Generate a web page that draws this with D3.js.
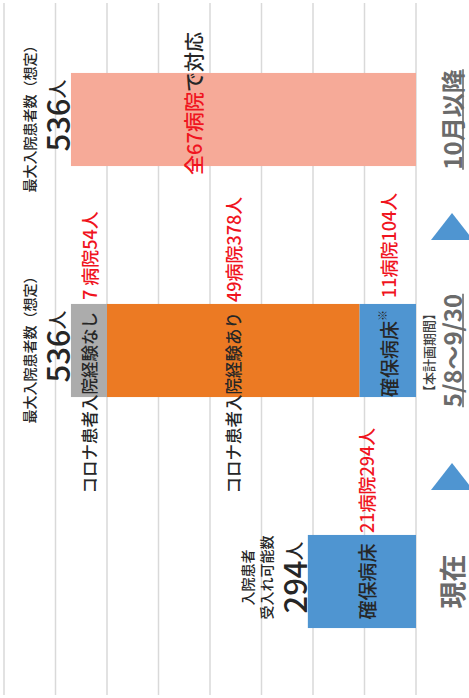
<!DOCTYPE html>
<html>
<head>
<meta charset="UTF-8">
<style>
  body { margin: 0; background: #fff; }
  svg text { font-family: "Noto Sans CJK JP", "Noto Sans", sans-serif; font-weight: 500; }
  .grid line { stroke: #d9d9d9; stroke-width: 1.5; }
</style>
</head>
<body>
<script src="https://cdn.jsdelivr.net/npm/d3@7/dist/d3.min.js"></script>
<script>
// periods (category axis)
var categories = ["現在", "5/8～9/30", "10月以降"];
var categorySub = ["", "【本計画期間】", ""];
var categoryUnderline = [false, true, true];

// hospitals per series (bar length)
var kakuhoHosp = [21, 11, 0];
var ariHosp    = [0, 49, 0];
var nashiHosp  = [0, 7, 0];
var allHosp    = [0, 0, 67];

// patients per series (labels)
var kakuhoPat = [294, 104, 0];
var ariPat    = [0, 378, 0];
var nashiPat  = [0, 54, 0];
var allPat    = [0, 0, 536];

// headline above each bar
var headCaption = [["入院患者", "受入れ可能数"], ["最大入院患者数（想定）"], ["最大入院患者数（想定）"]];
var headValue = [294, 536, 536];

var keys = ["kakuho", "ari", "nashi", "all"];
var keyNames = ["確保病床", "コロナ患者入院経験あり", "コロナ患者入院経験なし", "全"];
var colors = { kakuho: "#4f95d1", ari: "#ec7a23", nashi: "#acacac", all: "#f6aa98" };
var RED = "#f0141e", DARK = "#262626", GRAY = "#6b6b6b";

var W = 469, H = 698;

var rows = categories.map(function(c, i) {
  return { cat: c, kakuho: kakuhoHosp[i], ari: ariHosp[i], nashi: nashiHosp[i], all: allHosp[i] };
});

var svg = d3.select("body").append("svg")
  .attr("width", W).attr("height", H);

// chart is drawn as a column chart and turned a quarter turn
var g = svg.append("g")
  .attr("transform", "translate(0," + H + ") rotate(-90)");

var x = d3.scaleBand().domain(categories).range([1, 694])
  .paddingInner(0.597).paddingOuter(0.2985);
var y = d3.scaleLinear().domain([0, 80]).range([416, 4]);

// gridlines
g.append("g").attr("class", "grid")
  .selectAll("line").data(y.ticks(8)).enter().append("line")
    .attr("x1", 3).attr("x2", 695)
    .attr("y1", function(d) { return y(d); })
    .attr("y2", function(d) { return y(d); });

// stacked bars
var stack = d3.stack().keys(keys);
var series = stack(rows);

g.selectAll(".layer").data(series).enter().append("g")
    .attr("class", "layer")
    .attr("fill", function(d) { return colors[d.key]; })
  .selectAll("rect").data(function(d) { return d; }).enter().append("rect")
    .attr("x", function(d) { return x(d.data.cat); })
    .attr("width", x.bandwidth())
    .attr("y", function(d) { return y(d[1]); })
    .attr("height", function(d) { return y(d[0]) - y(d[1]); });

function label(u, v, anchor, parts) {
  var t = g.append("text")
    .attr("x", u).attr("y", v)
    .attr("text-anchor", anchor)
    .attr("dominant-baseline", "central");
  parts.forEach(function(p) {
    var s = t.append("tspan").text(p[0]).attr("fill", p[1]).style("font-size", p[2] + "px");
    if (p[3]) s.attr("dy", p[3]);
    if (p[4]) s.style("font-weight", p[4]);
  });
  return t;
}

var bw = x.bandwidth();
function segMid(si, ci) { var d = series[si][ci]; return (y(d[0]) + y(d[1])) / 2; }

// segment labels
categories.forEach(function(c, i) {
  var u0 = x(c), u1 = u0 + bw;
  if (i === 0) {
    label(u0 + bw / 2, segMid(0, i) + 4, "middle", [[keyNames[0], DARK, 19]]);
    label(u1 + 2, segMid(0, i) + 4, "start", [[kakuhoHosp[i] + "病院" + kakuhoPat[i] + "人", RED, 18]]);
  }
  if (i === 1) {
    label(u1 - 6, segMid(0, i), "end", [[keyNames[0], DARK, 19], ["※", DARK, 11, -6]]);
    label(u1 + 6, segMid(0, i), "start", [[kakuhoHosp[i] + "病院" + kakuhoPat[i] + "人", RED, 18]]);
    label(u1 - 8, segMid(1, i), "end", [[keyNames[1], DARK, 16.5]]);
    label(u1 + 2, segMid(1, i), "start", [[ariHosp[i] + "病院" + ariPat[i] + "人", RED, 18]]);
    label(u1 - 8, segMid(2, i), "end", [[keyNames[2], DARK, 16.5]]);
    label(u1 + 4, segMid(2, i), "start", [[nashiHosp[i] + " 病院" + nashiPat[i] + "人", RED, 18]]);
  }
  if (i === 2) {
    label(u0 + bw / 2 + 16, y(allHosp[i]) + 122, "middle",
      [[keyNames[3] + allHosp[i] + "病院", RED, 20], ["で対応", DARK, 20]]);
  }

  // headline above the bar
  var top = y(rows[i].kakuho + rows[i].ari + rows[i].nashi + rows[i].all);
  var cu = u0 + bw / 2 + 4;
  label(cu, top - 15, "middle", [[headValue[i], DARK, 31], ["人", DARK, 19]]);
  var caps = headCaption[i];
  caps.forEach(function(cap, k) {
    label(cu, top - 42 - (caps.length - 1 - k) * 19, "middle", [[cap, DARK, 14]]);
  });

  // period label on the category axis
  var cl = label(u0 + bw / 2, 451, "middle", [[c, GRAY, i === 0 ? 27 : 24, null, "bold"]]);
  if (categoryUnderline[i]) {
    var bb = cl.node().getBBox();
    g.append("line")
      .attr("x1", bb.x).attr("x2", bb.x + bb.width)
      .attr("y1", 463).attr("y2", 463)
      .attr("stroke", GRAY).attr("stroke-width", 1.6);
  }
  if (categorySub[i]) {
    label(u0 + bw / 2 - 2, 428, "middle", [[categorySub[i], "#404040", 13]]);
  }
});

// arrows between periods
var arrowCenters = [221, 471];
arrowCenters.forEach(function(u) {
  g.append("path")
    .attr("d", "M" + (u - 13) + ",431 L" + (u + 14) + ",452 L" + (u - 13) + ",473 Z")
    .attr("fill", "#4f95d1");
});
</script>
</body>
</html>
